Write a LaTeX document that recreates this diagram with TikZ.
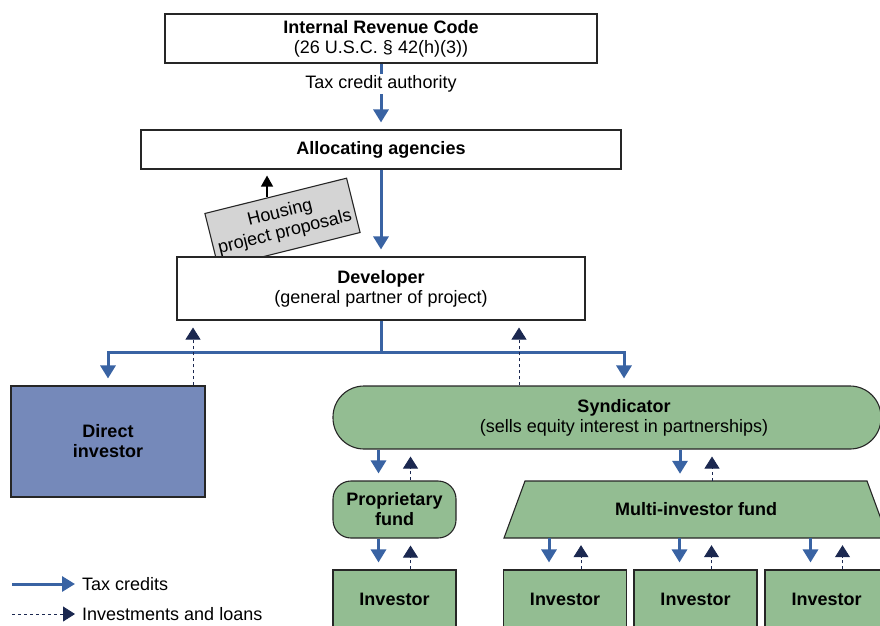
\documentclass[tikz,border=0pt]{standalone}
\usepackage{fontspec}
\setmainfont{Liberation Sans}
\usetikzlibrary{arrows.meta}
\usetikzlibrary{calc}

\definecolor{creditblue}{RGB}{57,99,163}
\definecolor{investnavy}{RGB}{27,40,80}
\definecolor{fundgreen}{RGB}{147,189,146}
\definecolor{directblue}{RGB}{117,137,186}
\definecolor{proposalgrey}{RGB}{212,212,212}

\begin{document}
\begin{tikzpicture}[x=1pt, y=-1pt,
    font=\fontsize{18}{20}\selectfont,
    box/.style={draw=black!85, line width=1.1pt, align=center, inner sep=2pt},
    whitebox/.style={box, fill=white},
    greenbox/.style={box, fill=fundgreen},
    credit/.style={creditblue, line width=3pt, -{Triangle[width=15pt,length=13pt]}, shorten >=7pt},
    invest/.style={investnavy, line width=0.8pt, dash pattern=on 3pt off 3pt, -{Triangle[width=15pt,length=12pt]}, shorten >=7pt}]
                \useasboundingbox (0,0) rectangle (880,625);
                \clip (0,0) rectangle (880,625);

                % Code and agencies
                \node[whitebox, minimum width=432pt, minimum height=49pt] (irc) at (381,38.5) {\textbf{Internal Revenue Code}\\(26 U.S.C. § 42(h)(3))};
                \node[whitebox, minimum width=480pt, minimum height=39pt] (alloc) at (381,149.5) {\textbf{Allocating agencies}};
                \draw[credit] (irc) -- (alloc);
                \node[fill=white, inner sep=2pt] (authority) at (381,84) {Tax credit authority};

                % Proposals (tucked behind the developer)
                \node[box, fill=proposalgrey, rotate=14, minimum width=146pt, minimum height=56pt] (proposal) at (282.5,223) {Housing\\project proposals};
                \coordinate (proposal out) at ($(proposal.north west)!0.44!(proposal.north east)$);
                \draw[black, line width=1.2pt, -{Triangle[width=12pt,length=11pt]}, shorten >=6pt] (proposal out) -- (proposal out |- alloc.south);

                % Developer
                \node[whitebox, minimum width=408pt, minimum height=63pt] (dev) at (381,288.5) {\textbf{Developer}\\(general partner of project)};
                \draw[credit] (alloc) -- (dev);

                % Investors and syndicator
                \node[box, fill=directblue, minimum width=194pt, minimum height=111pt] (direct) at (108,441.5) {\textbf{Direct}\\\textbf{investor}};
                \node[greenbox, rounded corners=31pt, minimum width=548pt, minimum height=63pt] (synd) at (607,417.5) {};
                \node[align=center] (synd text) at (624,417.5) {\textbf{Syndicator}\\(sells equity interest in partnerships)};

                \draw[creditblue, line width=3pt] (dev.south) -- ++(0,32) coordinate (split);
                \draw[credit] (split) -| (direct.north);
                \draw[credit] (split) -| (synd text |- synd.north);
                \draw[invest] ([xshift=85pt]direct.north) -- ([xshift=85pt]direct.north |- dev.south);
                \draw[invest] ([xshift=-88pt]synd.north) -- ([xshift=-88pt]synd.north |- dev.south);

                % Funds
                \node[greenbox, rounded corners=18pt, minimum width=123pt, minimum height=57pt] (propfund) at (394.5,509.5) {\textbf{Proprietary}\\\textbf{fund}};
                \draw[draw=black!85, line width=1.1pt, fill=fundgreen] (504,538) -- (525,481) -- (867,481) -- (888,538) -- cycle;
                \node[minimum width=384pt, minimum height=57pt, inner sep=0pt] (multi) at (696,509.5) {\textbf{Multi-investor fund}};
                \draw[credit] ([xshift=-16pt]propfund.north |- synd.south) -- ([xshift=-16pt]propfund.north);
                \draw[invest] ([xshift=16pt]propfund.north) -- ([xshift=16pt]propfund.north |- synd.south);
                \draw[credit] ([xshift=-16pt]multi.north |- synd.south) -- ([xshift=-16pt]multi.north);
                \draw[invest] ([xshift=16pt]multi.north) -- ([xshift=16pt]multi.north |- synd.south);

                % Bottom row of investors
                \node[greenbox, minimum width=123pt, minimum height=58pt] (inv a) at (394.5,599) {\textbf{Investor}};
                \node[greenbox, minimum width=123pt, minimum height=58pt] (inv b) at (565,599) {\textbf{Investor}};
                \node[greenbox, minimum width=123pt, minimum height=58pt] (inv c) at (695.5,599) {\textbf{Investor}};
                \node[greenbox, minimum width=123pt, minimum height=58pt] (inv d) at (826.5,599) {\textbf{Investor}};
                \draw[credit] ([xshift=-16pt]inv a.north |- propfund.south) -- ([xshift=-16pt]inv a.north);
                \draw[invest] ([xshift=16pt]inv a.north) -- ([xshift=16pt]inv a.north |- propfund.south);
                \draw[credit] ([xshift=-16pt]inv b.north |- multi.south) -- ([xshift=-16pt]inv b.north);
                \draw[invest] ([xshift=16pt]inv b.north) -- ([xshift=16pt]inv b.north |- multi.south);
                \draw[credit] ([xshift=-16pt]inv c.north |- multi.south) -- ([xshift=-16pt]inv c.north);
                \draw[invest] ([xshift=16pt]inv c.north) -- ([xshift=16pt]inv c.north |- multi.south);
                \draw[credit] ([xshift=-16pt]inv d.north |- multi.south) -- ([xshift=-16pt]inv d.north);
                \draw[invest] ([xshift=16pt]inv d.north) -- ([xshift=16pt]inv d.north |- multi.south);

                % Legend
                \coordinate (legend a) at (12,584);
                \coordinate (legend b) at (12,614);
                \node[anchor=west, inner sep=2pt] (legend credit) at (80,584) {Tax credits};
                \node[anchor=west, inner sep=2pt] (legend invest) at (80,614) {Investments and loans};
                \draw[credit, shorten >=5pt] (legend a) -- (legend credit.west);
                \draw[invest, shorten >=5pt] (legend b) -- (legend invest.west);
            \end{tikzpicture}
\end{document}
